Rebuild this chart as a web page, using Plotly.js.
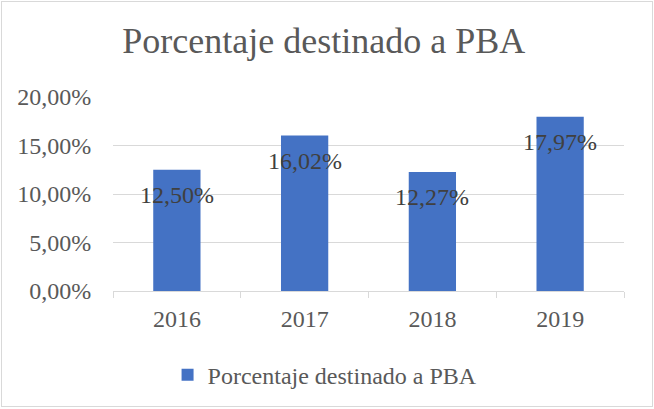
<!DOCTYPE html>
<html>
<head>
<meta charset="utf-8">
<script src="https://cdn.plot.ly/plotly-3.0.1.min.js"></script>
<style>
  html, body { margin: 0; padding: 0; background: #fff; }
  #wrap { position: relative; width: 654px; height: 409px; }
  #chart { position: absolute; left: 0; top: 0; width: 654px; height: 409px; }
  #frame { position: absolute; left: 1px; top: 1px; width: 652px; height: 406px;
           border: 1px solid #d9d9d9; box-sizing: border-box; pointer-events: none; }
</style>
</head>
<body>
<div id="wrap">
  <div id="chart"></div>
  <div id="frame"></div>
</div>
<script>
const chartTitle = 'Porcentaje destinado a PBA';
const seriesName = 'Porcentaje destinado a PBA';
const years = ['2016', '2017', '2018', '2019'];
const percentValues = [12.50, 16.02, 12.27, 17.97];

const fmt = v => v.toFixed(2).replace('.', ',') + '%';
const textColor = '#595959';
const serif = 'Liberation Serif';

const trace = {
  type: 'bar',
  x: years,
  y: percentValues,
  name: seriesName,
  marker: { color: '#4472C4' },
  showlegend: true,
  hoverinfo: 'skip'
};

const labelAnnotations = years.map((yr, i) => ({
  x: i,
  y: percentValues[i],
  xref: 'x',
  yref: 'y',
  text: fmt(percentValues[i]),
  showarrow: false,
  yanchor: 'middle',
  xanchor: 'center',
  yshift: -25,
  font: { family: serif, size: 24, color: '#404040' }
}));

const layout = {
  width: 654,
  height: 409,
  margin: { l: 113, r: 30, t: 97, b: 116.5 },
  paper_bgcolor: '#ffffff',
  plot_bgcolor: '#ffffff',
  separators: ',.',
  bargap: 0.63,
  title: {
    text: chartTitle,
    font: { family: serif, size: 36, color: textColor },
    x: 0.495,
    xanchor: 'center',
    xref: 'container',
    y: 1 - 40 / 409,
    yanchor: 'middle',
    yref: 'container'
  },
  xaxis: {
    type: 'category',
    range: [-0.5, 3.5],
    showgrid: false,
    showline: true,
    linecolor: '#d9d9d9',
    linewidth: 1,
    ticks: 'outside',
    tickson: 'boundaries',
    ticklen: 6,
    tickcolor: '#d9d9d9',
    tickangle: 0,
    ticklabelstandoff: 6,
    tickfont: { family: serif, size: 24, color: textColor },
    fixedrange: true
  },
  yaxis: {
    range: [0, 20],
    dtick: 5,
    tickformat: '.2f',
    ticksuffix: '%',
    showgrid: true,
    gridcolor: '#d9d9d9',
    gridwidth: 1,
    zeroline: false,
    showline: false,
    ticks: 'outside',
    ticklen: 16,
    tickcolor: 'rgba(0,0,0,0)',
    tickfont: { family: serif, size: 24, color: textColor },
    fixedrange: true
  },
  legend: {
    orientation: 'h',
    x: 0.415,
    xanchor: 'center',
    y: -0.427,
    yanchor: 'middle',
    font: { family: serif, size: 24, color: textColor },
    bgcolor: 'rgba(0,0,0,0)'
  },
  annotations: labelAnnotations
};

Plotly.newPlot('chart', [trace], layout, { displayModeBar: false, staticPlot: true });
</script>
</body>
</html>
